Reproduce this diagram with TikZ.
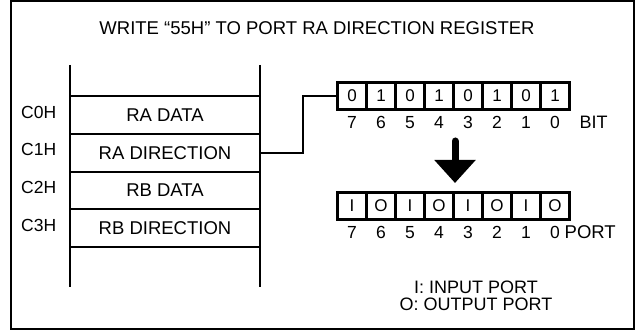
\documentclass[tikz,border=0pt]{standalone}
\usepackage{fontspec}
\setmainfont{Liberation Sans}
\usetikzlibrary{arrows.meta, positioning}
\tikzset{
  regrow/.style={rectangle,minimum width=95pt,minimum height=18.5pt,inner sep=0pt,font=\fontsize{9.25}{11}\selectfont},
  addr/.style={inner sep=0pt,font=\fontsize{8.75}{10}\selectfont},
  bitcell/.style={rectangle,draw,line width=1.8pt,outer sep=0pt,minimum width=14.5pt,minimum height=13.5pt,inner sep=0pt,font=\fontsize{8.5}{9}\selectfont},
  bitnum/.style={inner sep=0pt,font=\fontsize{8.75}{10}\selectfont},
  line/.style={line width=1pt},
  bigarrow/.style={line width=3.5pt,line cap=round,-{Triangle[width=20pt,length=11.5pt]}}
}
\begin{document}
\begin{tikzpicture}[x=0.5pt,y=-0.5pt]
\useasboundingbox (0,0) rectangle (635,330);
\draw[line] (11,1.5) rectangle (633.5,329);
\node[font=\fontsize{9.25}{11}\selectfont] (title) at (317,28) {WRITE “55H” TO PORT RA DIRECTION REGISTER};

% register file
\node[regrow] (radata) at (165,115) {RA DATA};
\node[regrow, below=0pt of radata] (radir) {RA DIRECTION};
\node[regrow, below=0pt of radir] (rbdata) {RB DATA};
\node[regrow, below=0pt of rbdata] (rbdir) {RB DIRECTION};
\draw[line] (70,65) -- (70,287);
\draw[line] (260,65) -- (260,287);
\foreach \r in {radata,radir,rbdata,rbdir}
  \draw[line] (\r.north west) -- (\r.north east);
\draw[line] (rbdir.south west) -- (rbdir.south east);
\node[addr, left=6.5pt of radata.west, yshift=1.5pt] (c0) {C0H};
\node[addr, left=6.5pt of radir.west, yshift=1.5pt] (c1) {C1H};
\node[addr, left=6.5pt of rbdata.west, yshift=1.5pt] (c2) {C2H};
\node[addr, left=6.5pt of rbdir.west, yshift=1.5pt] (c3) {C3H};

% bit row
\node[bitcell] (b7) at (352,96) {0};
\foreach \i/\v [remember=\i as \prev (initially 7)] in {6/1,5/0,4/1,3/0,2/1,1/0,0/1}
  \node[bitcell, right=0pt of b\prev] (b\i) {\v};
\foreach \i in {7,...,0}
  \node[bitnum, below=3.25pt of b\i] (n\i) {\i};
\node[bitnum, font=\fontsize{9}{10}\selectfont, right=9.5pt of n0] (bit) {BIT};

% port row
\node[bitcell] (p7) at (352,206) {I};
\foreach \i/\v [remember=\i as \prev (initially 7)] in {6/O,5/I,4/O,3/I,2/O,1/I,0/O}
  \node[bitcell, right=0pt of p\prev] (p\i) {\v};
\foreach \i in {7,...,0}
  \node[bitnum, below=3.25pt of p\i] (q\i) {\i};
\node[bitnum, font=\fontsize{9.25}{10}\selectfont, right=2pt of q0] (port) {PORT};

\coordinate (arrtop) at (455,141);
\coordinate (arrtip) at (455,183);
\draw[bigarrow] (arrtop) -- (arrtip);

\node[align=center, font=\fontsize{9}{8.5}\selectfont] (legend) at (476,296) {I: INPUT PORT\\O: OUTPUT PORT};

\draw[line] (radir.east) -- ++(21.5pt,0) |- (b7.west);
\end{tikzpicture}
\end{document}
